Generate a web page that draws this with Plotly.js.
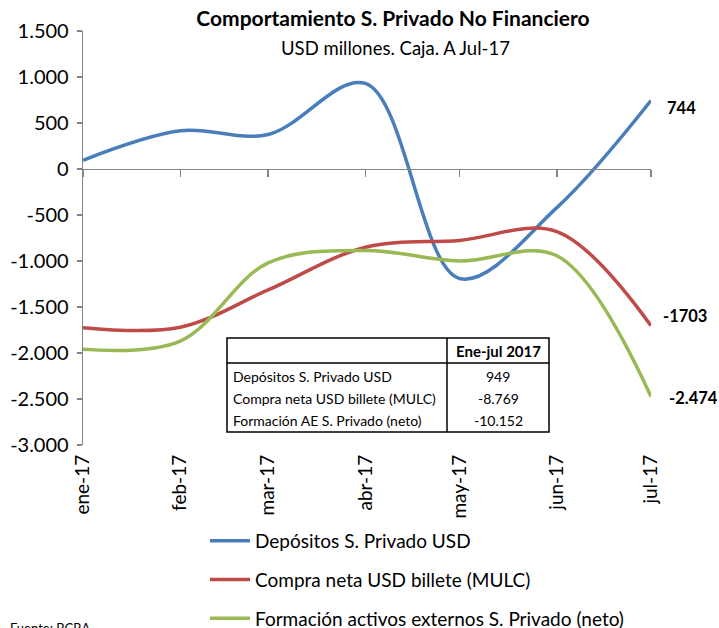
<!DOCTYPE html>
<html>
<head>
<meta charset="utf-8">
<script src="https://cdn.plot.ly/plotly-3.0.1.min.js"></script>
<style>html,body{margin:0;padding:0;background:#fff;}#chart{width:719px;height:628px;}</style>
</head>
<body>
<div id="chart"></div>
<script>
// ---- data ----
var months = ['2017-01-01','2017-02-01','2017-03-01','2017-04-01','2017-05-01','2017-06-01','2017-07-01'];
var monthLabels = ['ene-17','feb-17','mar-17','abr-17','may-17','jun-17','jul-17'];
var seriesNames = ['Depósitos S. Privado USD','Compra neta USD billete (MULC)','Formación activos externos S. Privado (neto)'];
var depositos = [95, 415, 375, 930, -1190, -420, 744];
var compraNeta = [-1725, -1720, -1315, -850, -776, -680, -1703];
var formacionAE = [-1960, -1870, -1020, -885, -1000, -943, -2474];
var endLabels = ['744', '-1703', '-2.474'];
var yTickVals = [1500, 1000, 500, 0, -500, -1000, -1500, -2000, -2500, -3000];
var yTickText = ['1.500','1.000','500','0','-500','-1.000','-1.500','-2.000','-2.500','-3.000'];
var tableHeader = 'Ene-jul 2017';
var tableLabels = ['Depósitos S. Privado USD','Compra neta USD billete (MULC)','Formación AE S. Privado (neto)'];
var tableValues = ['949','-8.769','-10.152'];
var titleText = 'Comportamiento S. Privado No Financiero';
var subtitleText = 'USD millones. Caja. A Jul-17';
var sourceText = 'Fuente: BCRA';

// ---- layout helpers ----
var W = 719, H = 628;
var ML = 83, MR = 68, MT = 31, MB = 183;
var PW = W - ML - MR, PH = H - MT - MB;
function px(x){ return (x - ML) / PW; }
function py(y){ return 1 - (y - MT) / PH; }

var FONT = 'Lato, "Open Sans", sans-serif';
var colors = ['#4A7EBB', '#BE4B48', '#98B954'];
var allSeries = [depositos, compraNeta, formacionAE];

var traces = allSeries.map(function(s, i){
  return {
    x: months, y: s, type: 'scatter', mode: 'lines',
    name: seriesNames[i], legendgroup: 'g' + i,
    line: {color: colors[i], width: 3.5, shape: 'spline', smoothing: 1},
    hoverinfo: 'x+y'
  };
});
// carrier trace for the zero-line axis
traces.push({x: months, y: depositos, xaxis: 'x2', yaxis: 'y', type: 'scatter', mode: 'none', showlegend: false, hoverinfo: 'skip'});

var annotations = [];
annotations.push({xref:'paper', yref:'paper', x: px(395), y: py(48), xanchor:'center', yanchor:'middle', showarrow:false,
  text: subtitleText, font:{family:FONT, size:18.5, color:'#000'}});
// end labels
var endShifts = [[14, -7], [10, 10], [16, -1]];
allSeries.forEach(function(s, i){
  annotations.push({xref:'x', yref:'y', x: months[months.length-1], y: s[s.length-1], xanchor:'left', yanchor:'middle',
    xshift: endShifts[i][0], yshift: endShifts[i][1], showarrow:false,
    text: '<b>' + endLabels[i] + '</b>', font:{family:FONT, size:16.5, color:'#000'}});
});
// table text
var tL = 227, tR = 549, tC = 447, tT = 338, tH = 363, tB = 432;
var rowY = [376, 398, 420];
annotations.push({xref:'paper', yref:'paper', x: px((tC + tR)/2), y: py((tT + tH)/2), xanchor:'center', yanchor:'middle', showarrow:false,
  text:'<b>' + tableHeader + '</b>', font:{family:FONT, size:15, color:'#000'}});
tableLabels.forEach(function(l, i){
  annotations.push({xref:'paper', yref:'paper', x: px(tL + 4), y: py(rowY[i]), xanchor:'left', yanchor:'middle', showarrow:false,
    text: l, font:{family:FONT, size:14, color:'#000'}});
  annotations.push({xref:'paper', yref:'paper', x: px((tC + tR)/2), y: py(rowY[i]), xanchor:'center', yanchor:'middle', showarrow:false,
    text: tableValues[i], font:{family:FONT, size:14, color:'#000'}});
});
annotations.push({xref:'paper', yref:'paper', x: px(8), y: py(618), xanchor:'left', yanchor:'top', showarrow:false,
  text: sourceText, font:{family:FONT, size:13, color:'#000'}});

var shapes = [
  {type:'rect', xref:'paper', yref:'paper', x0:px(tL), x1:px(tR), y0:py(tT), y1:py(tB), line:{color:'#000', width:1.5}, fillcolor:'#fff', layer:'above'},
  {type:'line', xref:'paper', yref:'paper', x0:px(tL), x1:px(tR), y0:py(tH), y1:py(tH), line:{color:'#000', width:1.5}, layer:'above'},
  {type:'line', xref:'paper', yref:'paper', x0:px(tC), x1:px(tC), y0:py(tT), y1:py(tB), line:{color:'#000', width:1.5}, layer:'above'}
];

var layout = {
  width: W, height: H,
  margin: {l: ML, r: MR, t: MT, b: MB, pad: 0, autoexpand: false},
  paper_bgcolor: '#fff', plot_bgcolor: '#fff',
  font: {family: FONT, color: '#000'},
  title: {text: '<b>' + titleText + '</b>', font:{family:FONT, size:21, color:'#000'}, x: 393 / W, xanchor:'center', xref:'container', y: 1 - 19/H, yanchor:'middle', yref:'container'},
  showlegend: true,
  legend: {orientation:'v', x: px(205), y: py(522), xanchor:'left', yanchor:'top', traceorder:'grouped', tracegroupgap: 11,
    font:{family:FONT, size:19, color:'#000'}, bgcolor:'rgba(0,0,0,0)', itemwidth: 40},
  xaxis: {type:'date', range:[months[0], months[months.length-1]], tickvals: months, ticktext: monthLabels, tickangle: -90,
    showline:false, ticks:'', showgrid:false, zeroline:false, tickfont:{family:FONT, size:19, color:'#000'}, ticklabelstandoff: 5, fixedrange:true, automargin:false},
  xaxis2: {type:'date', overlaying:'x', anchor:'free', position: (0 - yTickVals[yTickVals.length-1]) / (yTickVals[0] - yTickVals[yTickVals.length-1]),
    side:'bottom', range:[months[0], months[months.length-1]], tickvals: months, showticklabels:false,
    showline:true, linecolor:'#868686', linewidth:1.3, ticks:'outside', ticklen:7, tickcolor:'#868686', tickwidth:1.3, showgrid:false, zeroline:false},
  yaxis: {range:[yTickVals[yTickVals.length-1], yTickVals[0]], tickvals: yTickVals, ticktext: yTickText,
    showline:true, linecolor:'#868686', linewidth:1.3, ticks:'outside', ticklen:5, tickcolor:'#868686', tickwidth:1.3,
    showgrid:false, zeroline:false, tickfont:{family:FONT, size:20, color:'#000'}, ticklabelstandoff: 4, fixedrange:true, automargin:false},
  annotations: annotations,
  shapes: shapes
};

Plotly.newPlot('chart', traces, layout, {displayModeBar:false, staticPlot:true});
</script>
</body>
</html>
